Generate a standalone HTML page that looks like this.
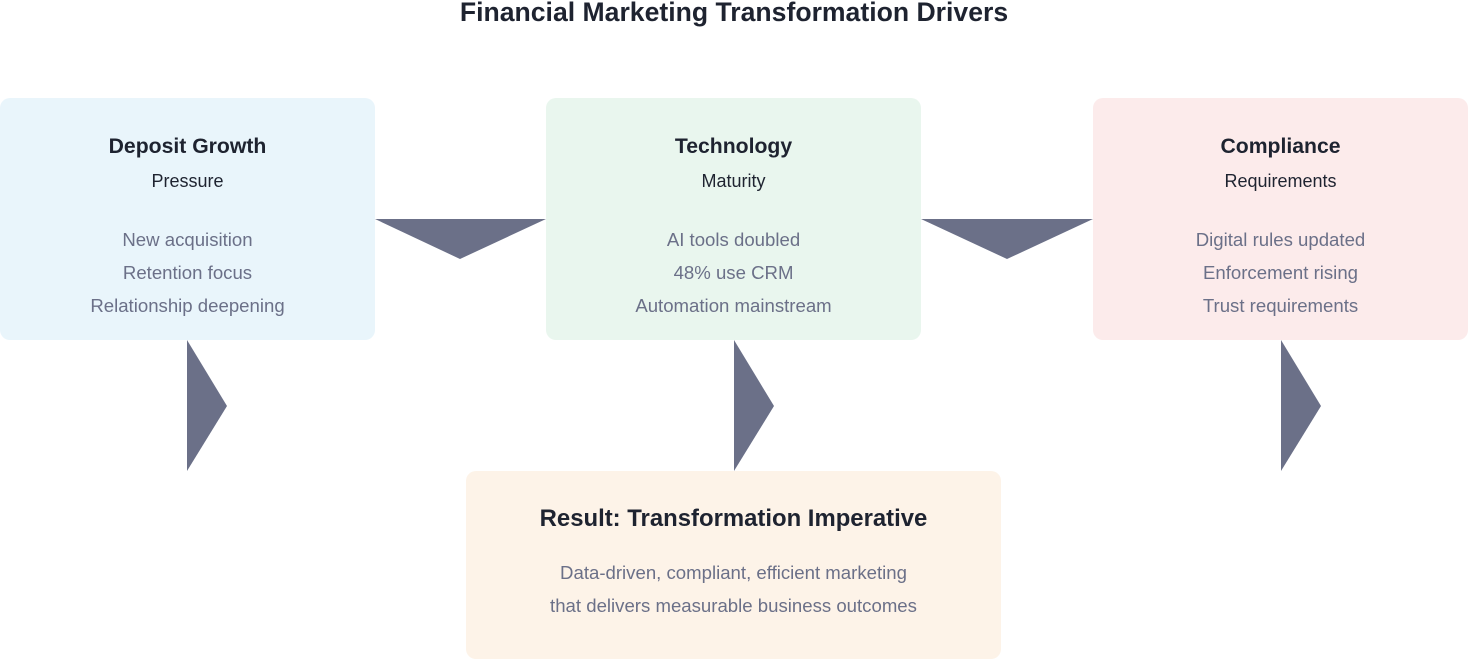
<!DOCTYPE html>
<html><head><meta charset="utf-8"><style>
body{margin:0;width:1468px;height:660px;background:#fff;position:relative;overflow:hidden;font-family:"Liberation Sans",sans-serif}
.t{position:absolute;left:0;width:100%;text-align:center;white-space:nowrap}
.box{position:absolute;border-radius:10px}
.h{font-weight:bold;font-size:21.2px;color:#1e2330}
.s{font-size:18px;color:#1e2330}
.i{font-size:18.6px;color:#6b7088}
</style></head><body>
<div class="t" style="top:-3px;font-size:26.6px;font-weight:bold;color:#1e2330">Financial Marketing Transformation Drivers</div>

<div class="box" style="left:0;top:98px;width:375px;height:242px;background:#e9f5fb">
<div class="t h" style="top:37px">Deposit Growth</div>
<div class="t s" style="top:73px">Pressure</div>
<div class="t i" style="top:131px">New acquisition</div>
<div class="t i" style="top:164px">Retention focus</div>
<div class="t i" style="top:197px">Relationship deepening</div>
</div>
<div class="box" style="left:546px;top:98px;width:375px;height:242px;background:#e9f6ee">
<div class="t h" style="top:37px">Technology</div>
<div class="t s" style="top:73px">Maturity</div>
<div class="t i" style="top:131px">AI tools doubled</div>
<div class="t i" style="top:164px">48% use CRM</div>
<div class="t i" style="top:197px">Automation mainstream</div>
</div>
<div class="box" style="left:1093px;top:98px;width:375px;height:242px;background:#fcebeb">
<div class="t h" style="top:37px">Compliance</div>
<div class="t s" style="top:73px">Requirements</div>
<div class="t i" style="top:131px">Digital rules updated</div>
<div class="t i" style="top:164px">Enforcement rising</div>
<div class="t i" style="top:197px">Trust requirements</div>
</div>
<div class="box" style="left:466px;top:471px;width:535px;height:188px;background:#fdf3e8">
<div class="t h" style="top:34px;font-size:23.9px">Result: Transformation Imperative</div>
<div class="t i" style="top:91px">Data-driven, compliant, efficient marketing</div>
<div class="t i" style="top:124px">that delivers measurable business outcomes</div>
</div>

<svg style="position:absolute;left:0;top:0" width="1468" height="660">
<g fill="#6b7088">
<polygon points="375,219 546,219 460,259"/>
<polygon points="921,219 1093,219 1007,259"/>
<polygon points="187,340 187,471 227,406"/>
<polygon points="734,340 734,471 774,406"/>
<polygon points="1281,340 1281,471 1321,406"/>
</g>
</svg>
</body></html>
